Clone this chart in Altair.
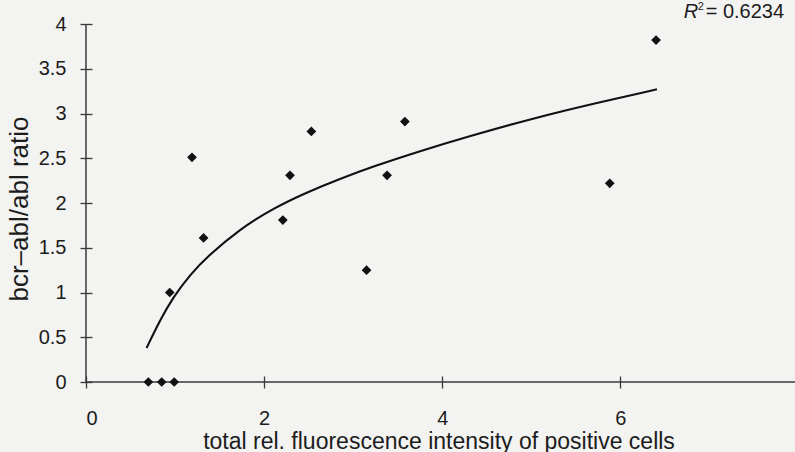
import altair as alt
import pandas as pd

# --- data ---
x_vals = [0.70, 0.85, 0.99, 0.94, 1.32, 1.19, 2.21, 2.29, 2.53, 3.15, 3.38, 3.58, 5.88, 6.40]
y_vals = [0.00, 0.00, 0.00, 1.00, 1.61, 2.51, 1.81, 2.31, 2.80, 1.25, 2.31, 2.91, 2.22, 3.82]

curve_x = [0.68, 0.83, 0.98, 1.17, 1.36, 1.73, 2.10, 2.48, 2.85, 3.23, 3.75, 4.28, 5.03, 5.78, 6.41]
curve_y = [0.38, 0.69, 0.95, 1.20, 1.40, 1.71, 1.94, 2.12, 2.27, 2.41, 2.58, 2.74, 2.95, 3.13, 3.27]

x_ticks = [0, 2, 4, 6]
y_ticks = [0, 0.5, 1, 1.5, 2, 2.5, 3, 3.5, 4]
x_max = 7.96
y_max = 4

x_title = "total rel. fluorescence intensity of positive cells"
y_title = "bcr\u2013abl/abl ratio"
r2_label = ["R", "2", "= 0.6234"]
r2_pos = [6.71, 4.07]

pts = pd.DataFrame({"x": x_vals, "y": y_vals})
crv = pd.DataFrame({"x": curve_x, "y": curve_y})
one = pd.DataFrame({"k": [0]})

FONT = "Liberation Sans"
TXT = "#1c1c1c"
AX = "#3a3a3a"
BG = "#f3f3f1"

xscale = alt.Scale(domain=[0, x_max], nice=False, zero=False)
yscale = alt.Scale(domain=[0, y_max], nice=False, zero=False)

xaxis = alt.Axis(
    values=x_ticks, format="~g", domain=False, grid=False,
    tickSize=12, offset=-6, tickColor=AX, tickWidth=1.3,
    labelFont=FONT, labelFontSize=20, labelColor=TXT, labelPadding=20,
    title=x_title, titleFont=FONT, titleFontSize=23, titleFontWeight="normal",
    titleColor=TXT, titleX=352.5, titleY=72, titleAlign="center",
    titleBaseline="alphabetic", titleAnchor="start",
)
yaxis = alt.Axis(
    values=y_ticks, format="~g", domain=False, grid=False,
    tickSize=12, offset=-6, tickColor=AX, tickWidth=1.3,
    labelFont=FONT, labelFontSize=20, labelColor=TXT, labelPadding=14,
    title=y_title, titleFont=FONT, titleFontSize=26, titleFontWeight="normal",
    titleColor=TXT, titleX=-72.5, titleY=184.5, titleAlign="center",
    titleBaseline="middle", titleAngle=270, titleAnchor="start",
)

X = alt.X("x:Q", scale=xscale, axis=xaxis)
Y = alt.Y("y:Q", scale=yscale, axis=yaxis)

# axis lines (drawn at data 0)
y_axis_line = alt.Chart(one).mark_rule(color=AX, strokeWidth=1.5).encode(
    x=alt.XDatum(0, scale=xscale, axis=xaxis),
    y=alt.YDatum(0, scale=yscale, axis=yaxis),
    y2=alt.datum(y_max),
)
x_axis_line = alt.Chart(one).mark_rule(color=AX, strokeWidth=1.5).encode(
    x=alt.XDatum(0, scale=xscale, axis=xaxis),
    x2=alt.datum(x_max),
    y=alt.YDatum(0, scale=yscale, axis=yaxis),
)

curve = alt.Chart(crv).mark_line(
    color="#111111", strokeWidth=2.1, interpolate="basis"
).encode(x=X, y=Y, order="x:Q")

points = alt.Chart(pts).mark_point(
    shape="diamond", filled=True, size=95, color="#111111", opacity=1
).encode(x=X, y=Y)

r_txt = alt.Chart(one).mark_text(
    text=r2_label[0], font=FONT, fontSize=20, fontStyle="italic", color=TXT,
    align="left", baseline="alphabetic"
).encode(x=alt.datum(r2_pos[0]), y=alt.datum(r2_pos[1]))
two_txt = alt.Chart(one).mark_text(
    text=r2_label[1], font=FONT, fontSize=11, color=TXT,
    align="left", baseline="alphabetic", dx=14, dy=-8
).encode(x=alt.datum(r2_pos[0]), y=alt.datum(r2_pos[1]))
val_txt = alt.Chart(one).mark_text(
    text=r2_label[2], font=FONT, fontSize=20, color=TXT,
    align="left", baseline="alphabetic", dx=22
).encode(x=alt.datum(r2_pos[0]), y=alt.datum(r2_pos[1]))

chart = alt.layer(
    y_axis_line, x_axis_line, curve, points, r_txt, two_txt, val_txt
).properties(
    width=709, height=358,
    padding={"left": 86, "top": 24, "right": 0, "bottom": 70},
    autosize=alt.AutoSizeParams(type="none"),
    background=BG,
).configure_view(stroke=None)

chart.save("out.html", embed_options={"renderer": "svg", "actions": False})
